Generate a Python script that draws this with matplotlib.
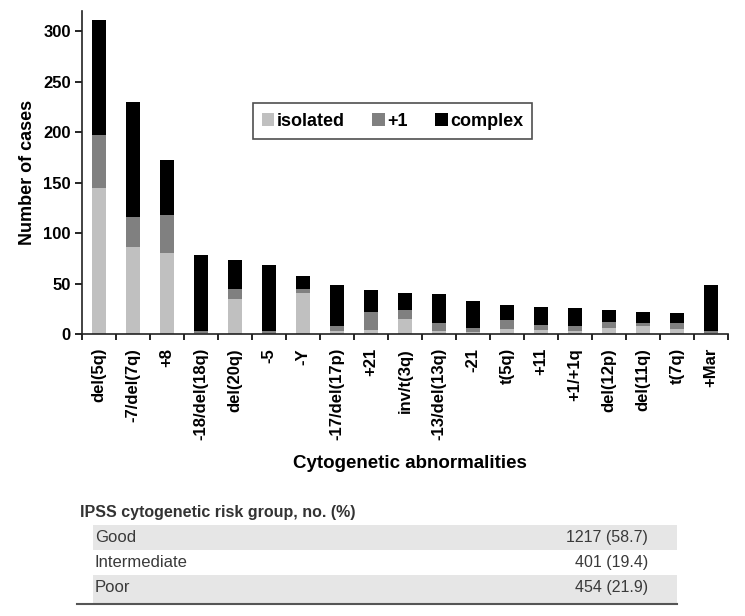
import matplotlib
matplotlib.use("Agg")
import matplotlib.pyplot as plt
import numpy as np

plt.rcParams['font.family'] = ['Liberation Sans', 'DejaVu Sans']

categories = ['del(5q)', '-7/del(7q)', '+8', '-18/del(18q)', 'del(20q)', '-5', '-Y',
              '-17/del(17p)', '+21', 'inv/t(3q)', '-13/del(13q)', '-21', 't(5q)', '+11',
              '+1/+1q', 'del(12p)', 'del(11q)', 't(7q)', '+Mar']
isolated = [145, 86, 80, 1, 35, 0, 41, 3, 4, 15, 3, 2, 5, 4, 3, 6, 8, 5, 1]
plus1 = [52, 30, 38, 2, 10, 3, 4, 5, 18, 9, 8, 4, 9, 5, 5, 6, 3, 6, 2]
complex_ = [114, 114, 54, 75, 28, 65, 12, 41, 22, 17, 29, 27, 15, 18, 18, 12, 11, 10, 46]

risk_groups = ['Good', 'Intermediate', 'Poor']
risk_values = ['1217 (58.7)', '401 (19.4)', '454 (21.9)']

fig = plt.figure(figsize=(7.45, 6.16), dpi=100)

# table drawn in pixel coordinates on a background axes
tab = fig.add_axes([0, 0, 1, 1])
tab.set_xlim(0, 745)
tab.set_ylim(616, 0)
tab.axis('off')
tab.text(80, 512, 'IPSS cytogenetic risk group, no. (%)', fontsize=11.5, fontweight='bold',
         color='#333333', va='center', ha='left')
row_h = 25
for i, (g, v) in enumerate(zip(risk_groups, risk_values)):
    y0 = 525 + i * row_h
    if i % 2 == 0:
        tab.add_patch(plt.Rectangle((93, y0), 584, row_h + (3 if i == 2 else 0),
                                    color='#e6e6e6', lw=0))
    tab.text(95, y0 + row_h / 2, g, fontsize=12, color='#3a3a3a', va='center', ha='left')
    tab.text(648, y0 + row_h / 2, v, fontsize=11.5, color='#3a3a3a', va='center', ha='right')
tab.plot([77, 677], [604, 604], color='#555555', lw=1.5)

ax = fig.add_axes([82 / 745, 1 - 334 / 616, 646 / 745, 323 / 616])
x = np.arange(len(categories))
iso = np.array(isolated)
p1 = np.array(plus1)
cx = np.array(complex_)
w = 0.43
ax.bar(x, iso, w, color='#c0c0c0', label='isolated')
ax.bar(x, p1, w, bottom=iso, color='#808080', label='+1')
ax.bar(x, cx, w, bottom=iso + p1, color='#000000', label='complex')

ax.set_xlim(-0.5, len(categories) - 0.5)
ax.set_ylim(0, 320)
ax.set_yticks(range(0, 301, 50))
ax.set_yticklabels([str(v) for v in range(0, 301, 50)], fontsize=12, fontweight='bold')
ax.set_xticks(x)
ax.set_xticklabels(categories, rotation=90, fontsize=12, fontweight='bold')
ax.set_xticks(np.arange(-0.5, len(categories), 1), minor=True)
ax.tick_params(axis='x', which='major', length=0, pad=10)
ax.tick_params(axis='x', which='minor', length=4, width=1.2, direction='out')
ax.tick_params(axis='y', length=5, width=1.2, direction='out', pad=3)
for s in ['top', 'right']:
    ax.spines[s].set_visible(False)
for s in ['left', 'bottom']:
    ax.spines[s].set_linewidth(1.2)
    ax.spines[s].set_color('#222222')

ax.set_ylabel('Number of cases', fontsize=13, fontweight='bold', labelpad=5)
fig.text(410 / 745, 1 - 463 / 616, 'Cytogenetic abnormalities', fontsize=13.5,
         fontweight='bold', ha='center', va='center')

leg = ax.legend(loc='center', bbox_to_anchor=(392.5 / 745, 1 - 121 / 616),
                bbox_transform=fig.transFigure, ncol=3, frameon=True, fancybox=False,
                handlelength=0.7, handleheight=0.7, handletextpad=0.15,
                columnspacing=1.5, borderpad=0.5, prop={'size': 13, 'weight': 'bold'})
leg.get_frame().set_edgecolor('#222222')
leg.get_frame().set_linewidth(1.2)

fig.savefig('out.png', dpi=100)
